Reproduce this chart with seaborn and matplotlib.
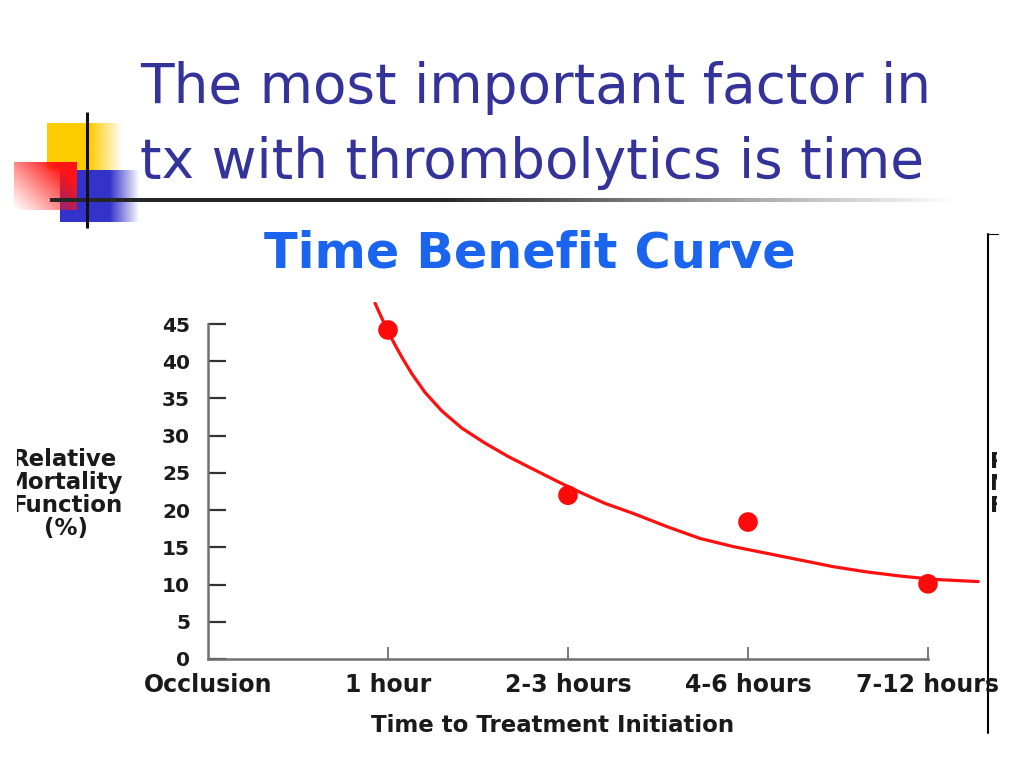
import numpy as np
import matplotlib
matplotlib.use('Agg')
import matplotlib.pyplot as plt
from matplotlib.transforms import Bbox
import seaborn as sns

# data
categories = ['Occlusion', '1 hour', '2-3 hours', '4-6 hours', '7-12 hours']
point_x = [1, 2, 3, 4]
point_y = [44.2, 22.0, 18.4, 10.1]

# fitted curve, traced by eye
curve_x = [0.928, 0.956, 1.0, 1.039, 1.078, 1.133, 1.206, 1.3, 1.411,
           1.539, 1.668, 1.798, 1.946, 2.076, 2.206, 2.363, 2.548,
           2.733, 2.918, 3.104, 3.289, 3.474, 3.659, 3.844, 4.029, 4.279]
curve_y = [47.8, 46.3, 44.0, 42.2, 40.5, 38.3, 35.8, 33.3, 31.0,
           29.0, 27.2, 25.6, 23.8, 22.3, 20.9, 19.55, 17.8,
           16.2, 15.1, 14.2, 13.3, 12.4, 11.7, 11.15, 10.7, 10.4]

y_ticks = [0, 5, 10, 15, 20, 25, 30, 35, 40, 45]
ylabel_lines = ['Relative', 'Mortality', 'Function', '(%)']

sns.set_style('white')
plt.rcParams['font.family'] = ['DejaVu Sans']

W, H = 1024, 768
fig = plt.figure(figsize=(W / 100, H / 100), dpi=100)

# slide decoration layer, pixel coords
ov = fig.add_axes([0, 0, 1, 1], zorder=0)
ov.axis('off')


def grad_rect(x0, x1, y0, y1, rgb, alpha):
    img = np.zeros(alpha.shape + (4,))
    img[..., :3] = rgb
    img[..., 3] = alpha
    ov.imshow(img, extent=(x0, x1, y1, y0), origin='upper', aspect='auto',
              interpolation='bilinear')


n = 100
u = np.linspace(0, 1, n)
# yellow square, solid then fading right
a = np.clip((123 - (47 + u * 76)) / 33, 0, 1)
grad_rect(47, 123, 123, 170, (1, 0.8, 0), np.tile(a, (n, 1)))
# blue block
a = np.clip((140 - (60 + u * 80)) / 30, 0, 1)
grad_rect(60, 140, 170, 222, (0.2, 0.2, 0.8), np.tile(a, (n, 1)))
# red block, diagonal fade
uu, vv = np.meshgrid(u, u)
a = np.clip((uu * 0.7 + (1 - vv) * 0.55) ** 1.1, 0, 1)
grad_rect(14, 77, 162, 210, (1, 0.08, 0.08), a)
# horizontal rule fading out
a = np.clip((960 - (50 + u * 910)) / 520, 0, 1)
grad_rect(50, 960, 198, 202, (0.15, 0.15, 0.15), np.tile(a, (n, 1)))
ov.plot([87, 87], [112, 228], color='#111111', lw=2.2, solid_capstyle='butt')
# right edge of a second copy of the chart
ov.plot([988, 988], [234, 733], color='black', lw=1.5)
ov.plot([988, 998], [234, 234], color='black', lw=0.8)
ov.set_xlim(0, W)
ov.set_ylim(H, 0)

# slide title
fig.text(140 / W, 1 - 103 / H, 'The most important factor in', fontsize=39.5,
         color='#333399', va='baseline', ha='left')
fig.text(140 / W, 1 - 178 / H, 'tx with thrombolytics is time', fontsize=39.5,
         color='#333399', va='baseline', ha='left')

# chart
ax = fig.add_axes([208 / W, (H - 659) / H, 792 / W, 357.3 / H], zorder=1)
ax.patch.set_alpha(0)
sns.lineplot(x=curve_x, y=curve_y, color='#ff1010', lw=2.3, sort=False, ax=ax)
sns.scatterplot(x=point_x, y=point_y, color='#ff0a0a', s=200, edgecolor='none',
                ax=ax, zorder=3)
ax.set_xlim(0, 4.4)
ax.set_ylim(0, 48)
for side in ['top', 'right']:
    ax.spines[side].set_visible(False)
for side in ['left', 'bottom']:
    ax.spines[side].set_color('#707070')
    ax.spines[side].set_linewidth(1.8)
ax.spines['left'].set_bounds(0, 45)
ax.spines['bottom'].set_bounds(0, 4)

ax.set_yticks(y_ticks)
ax.set_yticklabels([str(t) for t in y_ticks], fontsize=14.5, fontweight='bold',
                   color='#1a1a1a')
ax.set_xticks(range(len(categories)))
ax.set_xticklabels(categories, fontsize=17, fontweight='bold', color='#1a1a1a')
ax.tick_params(axis='y', direction='in', length=13, width=1.6, color='#333333',
               pad=13, left=True)
ax.tick_params(axis='x', direction='in', length=8.5, width=1.3, color='#707070',
               pad=10, bottom=True)
ax.xaxis.get_major_ticks()[0].tick1line.set_visible(False)
ax.set_xlabel('')
ax.set_ylabel('')

# chart title and axis labels
fig.text(530 / W, 1 - 268 / H, 'Time Benefit Curve', fontsize=35.5,
         fontweight='bold', color='#1a64f0', ha='center', va='baseline')
fig.text(553 / W, 1 - 725 / H, 'Time to Treatment Initiation', fontsize=16.5,
         fontweight='bold', color='#1a1a1a', ha='center', va='center')

left_clip = Bbox.from_extents(17, 0, W, H)
right_clip = Bbox.from_extents(0, 0, 997, H)
label_cx = [64, 65, 68, 66]
for i, line in enumerate(ylabel_lines):
    yc = 1 - (459 + 23 * i) / H
    t = fig.text(label_cx[i] / W, yc, line, fontsize=16.5, fontweight='bold',
                 color='#1a1a1a', ha='center', va='center')
    t.set_clip_box(left_clip)
    t.set_clip_on(True)
    if i < 3:
        # only the first letters peek out on the right edge
        t2 = fig.text(990 / W, 1 - (462 + 22 * i) / H, line[0], fontsize=15.8,
                      fontweight='bold', color='#1a1a1a', ha='left',
                      va='center')
        t2.set_clip_box(right_clip)
        t2.set_clip_on(True)

plt.savefig('out.png', dpi=100)
